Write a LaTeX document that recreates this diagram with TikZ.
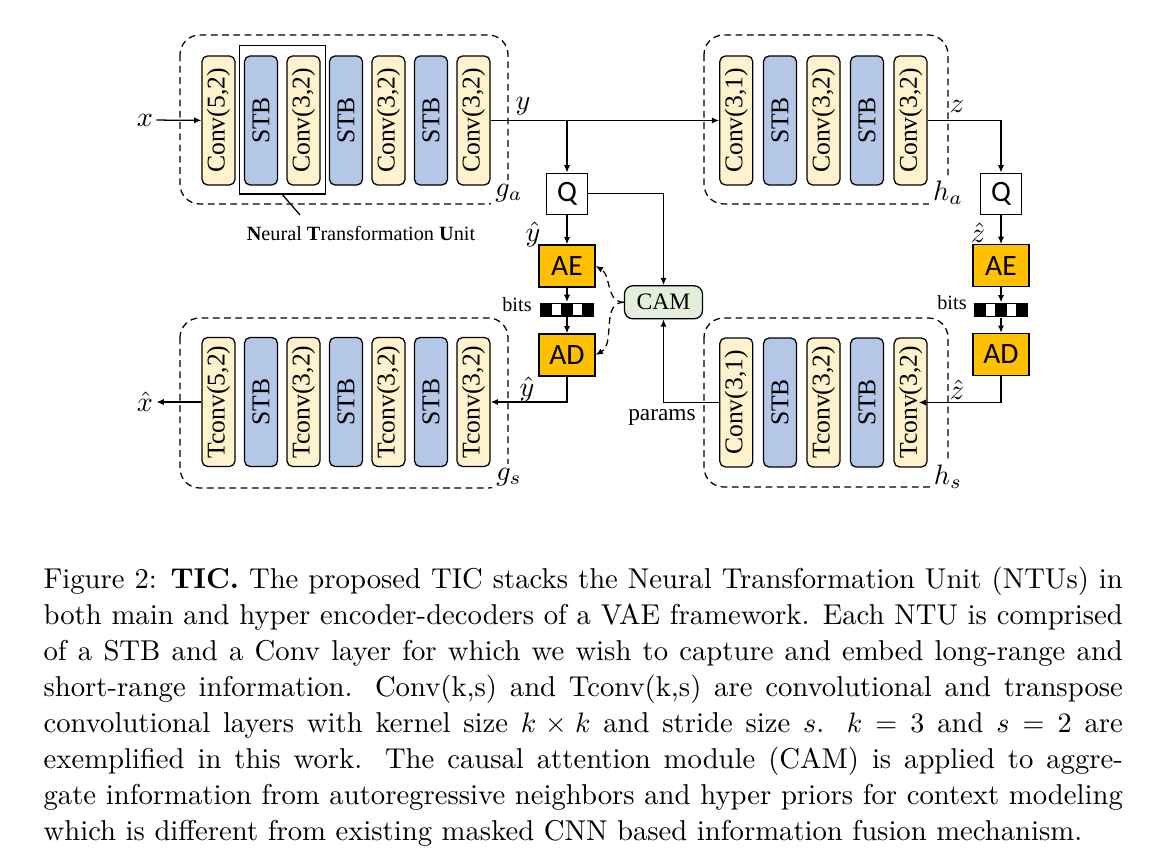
\documentclass[tikz,border=0pt]{standalone}
\usepackage{amsmath}
\usepackage{graphicx}
\usepackage{fontspec}
\newfontfamily\timesfont{Liberation Serif}
\newfontfamily\calfont{Carlito}
\usetikzlibrary{arrows.meta}
\definecolor{convyellow}{HTML}{FFF2CC}
\definecolor{stbblue}{HTML}{B4C7E7}
\definecolor{camgreen}{HTML}{E2EFDA}
\definecolor{codeorange}{HTML}{FFC000}

\begin{document}
\begin{tikzpicture}[x=0.0125cm, y=-0.0125cm, line width=0.45pt,
    >={Latex[length=2.6pt,width=2.2pt]},
    blk/.style={draw, rounded corners=2pt, minimum width=0.4125cm, minimum height=1.6125cm,
        inner sep=0pt, font=\timesfont\fontsize{9.1}{10}\selectfont},
    qbox/.style={draw, fill=white, minimum size=0.5125cm, inner sep=0pt,
        font=\calfont\fontsize{10.5}{12}\selectfont},
    codec/.style={draw, fill=codeorange, minimum width=0.7cm, minimum height=0.525cm,
        inner sep=0pt, font=\calfont\fontsize{10.5}{12}\selectfont},
    bitbar/.style={fill=black, minimum width=0.6625cm, minimum height=0.175cm, inner sep=0pt,
        path picture={
            \fill[white] ([xshift=0.15cm,yshift=0.016cm]path picture bounding box.south west) rectangle ++(0.1125cm,0.143cm);
            \fill[white] ([xshift=0.41cm,yshift=0.016cm]path picture bounding box.south west) rectangle ++(0.1125cm,0.143cm);
        }},
    group/.style={draw, dash pattern=on 2.4pt off 1.6pt, rounded corners=7pt},
    grouplab/.style={fill=white, inner sep=1.5pt, font=\fontsize{10}{12}\selectfont},
    mathlab/.style={inner sep=1pt, font=\fontsize{10}{12}\selectfont},
    smalltext/.style={inner sep=1pt, font=\timesfont\fontsize{7.2}{8}\selectfont}]

    \useasboundingbox (0,0) rectangle (1152,861);

    % dashed groups
    \draw[group] (180,35) rectangle (508,204);
    \draw[group] (704,35) rectangle (948,204);
    \draw[group] (180,318) rectangle (508,488);
    \draw[group] (704,318) rectangle (948,487);
    \node[grouplab] (galab) at (509,193) {$g_a$};
    \node[grouplab] (halab) at (948,193) {$h_a$};
    \node[grouplab] (gslab) at (509,477) {$g_s$};
    \node[grouplab] (hslab) at (948,477) {$h_s$};

    % blocks of g_a
    \foreach \n/\x/\lab/\col in {1/218.5/{Conv(5,2)}/convyellow, 2/261/STB/stbblue,
        3/303.5/{Conv(3,2)}/convyellow, 4/346/STB/stbblue, 5/388.5/{Conv(3,2)}/convyellow,
        6/431/STB/stbblue, 7/473.5/{Conv(3,2)}/convyellow}
        \node[blk, fill=\col] (ga\n) at (\x,120.5) {\rotatebox{90}{\lab}};

    % blocks of g_s
    \foreach \n/\x/\lab/\col in {1/218.5/{Tconv(5,2)}/convyellow, 2/261/STB/stbblue,
        3/303.5/{Tconv(3,2)}/convyellow, 4/346/STB/stbblue, 5/388.5/{Tconv(3,2)}/convyellow,
        6/431/STB/stbblue, 7/473.5/{Tconv(3,2)}/convyellow}
        \node[blk, fill=\col] (gs\n) at (\x,402) {\rotatebox{90}{\lab}};

    % blocks of h_a
    \foreach \n/\x/\lab/\col in {1/736.3/{Conv(3,1)}/convyellow, 2/780/STB/stbblue,
        3/823.5/{Conv(3,2)}/convyellow, 4/867/STB/stbblue, 5/910.6/{Conv(3,2)}/convyellow}
        \node[blk, fill=\col] (ha\n) at (\x,120.5) {\rotatebox{90}{\lab}};

    % blocks of h_s
    \foreach \n/\x/\lab/\col in {1/736.3/{Conv(3,1)}/convyellow, 2/780/STB/stbblue,
        3/823.5/{Tconv(3,2)}/convyellow, 4/867/STB/stbblue, 5/910.6/{Tconv(3,2)}/convyellow}
        \node[blk, fill=\col] (hs\n) at (\x,402.5) {\rotatebox{90}{\lab}};

    % neural transformation unit
    \node[draw, minimum width=1.08cm, minimum height=1.854cm, inner sep=0pt] (ntu) at (282.5,119.9) {};
    \node[smalltext] (ntulab) at (361,233) {\textbf{N}eural \textbf{T}ransformation \textbf{U}nit};
    \coordinate (ntuend) at (300,215);
    \draw (ntu.south) -- (ntuend);

    % quantizers, coders and CAM
    \node[qbox] (q1) at (567,193.7) {Q};
    \node[codec] (ae1) at (567,266) {AE};
    \node[bitbar] (bits1) at (567,309.7) {};
    \node[codec] (ad1) at (567,355) {AD};
    \node[qbox] (q2) at (1001,193.7) {Q};
    \node[codec] (ae2) at (1001,265.7) {AE};
    \node[bitbar] (bits2) at (1001,310) {};
    \node[codec] (ad2) at (1001,354.5) {AD};
    \node[draw, fill=camgreen, rounded corners=3pt, minimum width=0.975cm, minimum height=0.4125cm,
        inner sep=0pt, font=\timesfont\fontsize{8.4}{10}\selectfont] (cam) at (663.5,302.3) {CAM};

    % labels
    \node[mathlab] (xin) at (145,120) {$x$};
    \node[mathlab] (xhat) at (145,402) {$\hat{x}$};
    \node[mathlab] (ylab) at (523,106) {$y$};
    \node[mathlab] (yhat1) at (533,234) {$\hat{y}$};
    \node[mathlab] (yhat2) at (527,389) {$\hat{y}$};
    \node[mathlab] (zlab) at (957,106) {$z$};
    \node[mathlab] (zhat1) at (978,233) {$\hat{z}$};
    \node[mathlab] (zhat2) at (957,390) {$\hat{z}$};
    \node[smalltext] (bitslab1) at (517,305) {bits};
    \node[smalltext] (bitslab2) at (952,303) {bits};
    \node[inner sep=1pt, font=\timesfont\fontsize{8.3}{10}\selectfont] (paramslab) at (662,417) {params};

    % main path
    \draw[->] (xin) -- (ga1);
    \draw[->] (ga7.east) -- (ha1.west);
    \coordinate (ysplit) at (567,120.5);
    \draw[->] (ysplit) -- (q1);
    \draw[->] (q1) -- (ae1);
    \draw[->] (ae1) -- (bits1);
    \draw[->] (bits1) -- (ad1);
    \draw[->] (ad1.south) |- (gs7.east);
    \draw[->] (gs1) -- (xhat);
    \draw[->] (q1.east) -| (cam.north);
    \draw[->, dash pattern=on 2.4pt off 1.6pt] (cam.west) to[out=180, in=-30] (ae1.east);
    \draw[->, dash pattern=on 2.4pt off 1.6pt] (cam.west) to[out=180, in=30] (ad1.east);

    % hyper path
    \draw[->] (ha5.east) -| (q2.north);
    \draw[->] (q2) -- (ae2);
    \draw[->] (ae2) -- (bits2);
    \draw[->] (bits2) -- (ad2);
    \draw[->] (ad2.south) |- ([xshift=-3.2pt]hs5.east);
    \draw[->] (hs1.west) -| (cam.south);

    % caption
    \node[anchor=north west, inner sep=0pt, text width=13.4875cm, align=justify,
        font=\fontsize{10.2}{12.8}\selectfont] (caption) at (43,566) {Figure 2: \textbf{TIC.} The proposed TIC stacks the Neural Transformation Unit (NTUs) in\linebreak
        both main and hyper encoder-decoders of a VAE framework. Each NTU is comprised\linebreak
        of a STB and a Conv layer for which we wish to capture and embed long-range and\linebreak
        short-range information. Conv(k,s) and Tconv(k,s) are convolutional and transpose\linebreak
        convolutional layers with kernel size $k \times k$ and stride size $s$. $k = 3$ and $s = 2$ are\linebreak
        exemplified in this work. The causal attention module (CAM) is applied to aggre-\linebreak
        gate information from autoregressive neighbors and hyper priors for context modeling\linebreak
        which is different from existing masked CNN based information fusion mechanism.};

\end{tikzpicture}
\end{document}
